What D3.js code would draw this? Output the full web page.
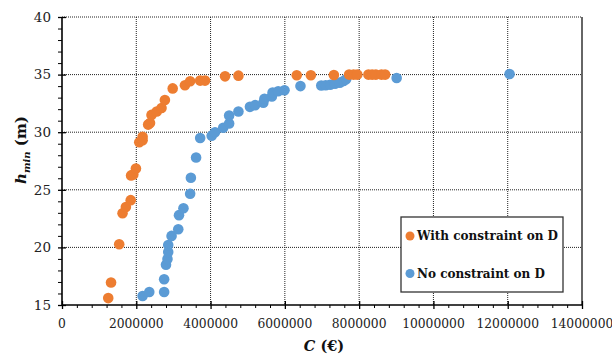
<!DOCTYPE html>
<html>
<head>
<meta charset="utf-8">
<script src="https://cdn.jsdelivr.net/npm/d3@7"></script>
<style>
  html, body { margin: 0; padding: 0; background: #fff; }
  svg { display: block; }
</style>
</head>
<body>
<svg id="chart" width="612" height="356"></svg>
<script>
// Cost C (€) against minimum height h_min (m)
const withConstraintC = [1245000, 1320000, 1540000, 1630000, 1720000, 1850000, 1860000, 1920000, 1990000,
  2080000, 2170000, 2170000, 2320000, 2370000, 2410000, 2550000, 2680000, 2770000, 2980000, 3310000, 3450000,
  3720000, 3850000, 4390000, 4750000, 6320000, 6700000, 7320000, 7730000, 7850000, 7950000, 8250000, 8350000,
  8450000, 8600000, 8700000];
const withConstraintH = [15.6, 16.95, 20.27, 22.96, 23.5, 24.1, 26.25, 26.33, 26.85,
  29.13, 29.3, 29.6, 30.66, 30.8, 31.5, 31.8, 32.1, 32.8, 33.8, 34.07, 34.42,
  34.48, 34.48, 34.85, 34.91, 34.95, 34.95, 34.97, 35.0, 35.0, 35.0, 35.0, 35.0,
  35.0, 35.0, 35.0];

const noConstraintC = [2170000, 2350000, 2750000, 2750000, 2800000, 2840000, 2860000, 2860000, 2950000,
  3130000, 3150000, 3270000, 3450000, 3470000, 3610000, 3720000, 4030000, 4120000, 4340000, 4500000,
  4500000, 4750000, 5060000, 5200000, 5420000, 5450000, 5650000, 5670000, 5820000, 5990000, 6420000,
  6980000, 7100000, 7220000, 7350000, 7480000, 7580000, 7650000, 9010000, 12050000];
const noConstraintH = [15.78, 16.13, 16.13, 17.23, 18.5, 19.0, 19.6, 20.2, 21.0,
  21.57, 22.8, 23.4, 24.66, 26.05, 27.8, 29.5, 29.7, 30.0, 30.38, 30.75,
  31.45, 31.8, 32.2, 32.35, 32.55, 32.9, 33.1, 33.45, 33.55, 33.64, 34.0,
  34.05, 34.08, 34.12, 34.2, 34.3, 34.45, 34.6, 34.7, 35.05];

const xTicks = [0, 2000000, 4000000, 6000000, 8000000, 10000000, 12000000, 14000000];
const yTicks = [15, 20, 25, 30, 35, 40];
const seriesNames = ["With constraint on D", "No constraint on D"];
const seriesColors = ["#ED7D31", "#5B9BD5"];

const SERIF = "DejaVu Serif";

const svg = d3.select("#chart");
const plotLeft = 62, plotRight = 582, plotTop = 17, plotBottom = 305;

const x = d3.scaleLinear().domain([0, 14000000]).range([plotLeft, plotRight]);
const y = d3.scaleLinear().domain([15, 40]).range([plotBottom, plotTop]);

// dotted gridlines at major ticks
const grid = svg.append("g").attr("stroke", "#222").attr("stroke-width", 1).attr("stroke-dasharray", "1,1");
xTicks.filter(t => t > 0 && t < 14000000).forEach(t => {
  grid.append("line").attr("x1", x(t)).attr("x2", x(t)).attr("y1", plotTop).attr("y2", plotBottom);
});
yTicks.filter(t => t > 15).forEach(t => {
  grid.append("line").attr("x1", plotLeft).attr("x2", plotRight).attr("y1", y(t)).attr("y2", y(t));
});
// right border
svg.append("line").attr("x1", plotRight).attr("x2", plotRight).attr("y1", plotTop).attr("y2", plotBottom)
  .attr("stroke", "#333").attr("stroke-width", 1.5);

// y axis
const yAxis = svg.append("g").attr("transform", `translate(${plotLeft},0)`);
yAxis.call(d3.axisLeft(y).tickValues(d3.range(15, 40.01, 1)).tickSize(4).tickFormat(""));
yAxis.call(g => g.select(".domain").remove());
yAxis.selectAll(".tick line").attr("stroke", "#000").attr("stroke-width", 1);
yAxis.selectAll(".tick").filter(d => d % 5 === 0).select("line").attr("x1", -4).attr("x2", 4).attr("stroke-width", 1.3);
yAxis.append("line").attr("x1", 0).attr("x2", 0).attr("y1", plotTop).attr("y2", plotBottom).attr("stroke", "#000").attr("stroke-width", 1.6);
yTicks.forEach(t => {
  yAxis.append("text").attr("x", -11).attr("y", y(t)).attr("dy", "0.35em").attr("text-anchor", "end")
    .attr("font-family", SERIF).attr("font-size", 13.5).attr("fill", "#222").text(t);
});

// x axis
const xAxis = svg.append("g").attr("transform", `translate(0,${plotBottom})`);
xAxis.call(d3.axisBottom(x).tickValues(d3.range(0, 14000001, 400000)).tickSize(3).tickFormat(""));
xAxis.call(g => g.select(".domain").remove());
xAxis.selectAll(".tick line").attr("stroke", "#000").attr("stroke-width", 1);
xAxis.selectAll(".tick").filter(d => d % 2000000 === 0).select("line").attr("y1", -4).attr("y2", 4).attr("stroke-width", 1.3);
xAxis.append("line").attr("x1", plotLeft).attr("x2", plotRight).attr("y1", 0).attr("y2", 0).attr("stroke", "#000").attr("stroke-width", 1.6);
xTicks.forEach(t => {
  xAxis.append("text").attr("x", x(t)).attr("y", 23).attr("text-anchor", "middle")
    .attr("font-family", SERIF).attr("font-size", 12.3).attr("fill", "#222").text(t);
});

// points
const series = [
  { c: noConstraintC, h: noConstraintH, color: seriesColors[1] },
  { c: withConstraintC, h: withConstraintH, color: seriesColors[0] }
];
series.forEach(s => {
  svg.append("g").selectAll("circle").data(d3.range(s.c.length)).join("circle")
    .attr("cx", i => x(s.c[i])).attr("cy", i => y(s.h[i])).attr("r", 5.3).attr("fill", s.color);
});

// axis titles
const xt = svg.append("text").attr("x", 324).attr("y", 351).attr("text-anchor", "middle")
  .attr("font-family", SERIF).attr("font-size", 14.5).attr("font-weight", "bold").attr("fill", "#111");
xt.append("tspan").attr("font-style", "italic").text("C");
xt.append("tspan").text(" (€)");

const yt = svg.append("text").attr("transform", "translate(26,150) rotate(-90)").attr("text-anchor", "middle")
  .attr("font-family", SERIF).attr("font-size", 15).attr("font-weight", "bold").attr("fill", "#111");
yt.append("tspan").attr("font-style", "italic").text("h");
yt.append("tspan").attr("font-style", "italic").attr("font-size", 10).attr("dy", 4).text("min");
yt.append("tspan").attr("dy", -4).text(" (m)");

// legend
const lg = svg.append("g");
lg.append("rect").attr("x", 401).attr("y", 217).attr("width", 162).attr("height", 75)
  .attr("fill", "#fff").attr("stroke", "#333").attr("stroke-width", 1.3);
seriesNames.forEach((name, i) => {
  const cy = 236 + i * 37.5;
  lg.append("circle").attr("cx", 410).attr("cy", cy).attr("r", 4.5).attr("fill", seriesColors[i]);
  lg.append("text").attr("x", 417).attr("y", cy).attr("dy", "0.35em").attr("font-size", 12)
    .attr("font-family", SERIF).attr("font-weight", "bold").attr("fill", "#111").text(name);
});
</script>
</body>
</html>
